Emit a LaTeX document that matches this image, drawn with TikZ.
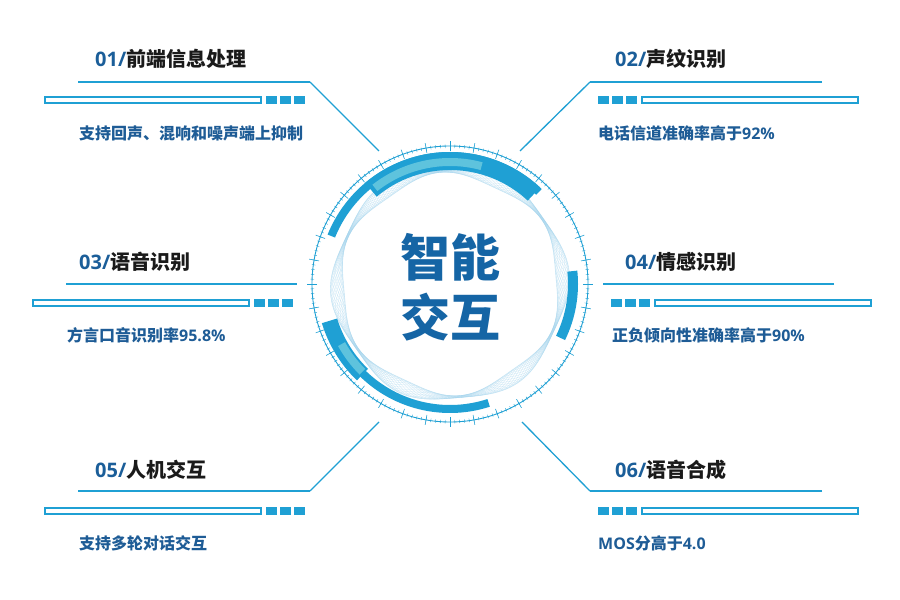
\documentclass[tikz,border=0pt]{standalone}
\usepackage{fontspec}
\setmainfont{Noto Sans CJK SC}
\newfontfamily\latn{Open Sans}
\usetikzlibrary{positioning}
\definecolor{lineblue}{HTML}{1FA0D4}
\definecolor{lightblue}{HTML}{5EC3DD}
\definecolor{wavec}{HTML}{9FD3EE}
\definecolor{numc}{HTML}{1B5E99}
\definecolor{titc}{HTML}{1A1A1A}
\definecolor{descc}{HTML}{1E5C96}
\definecolor{centc}{HTML}{1565A5}
\begin{document}
\begin{tikzpicture}[x=1pt, y=1pt]
		% 定义样式
			\tikzstyle{tit} = [anchor=west, inner sep=0pt, font=\fontsize{20}{24}\selectfont\bfseries, text=titc]
			\tikzstyle{desc} = [anchor=west, inner sep=0pt, font=\fontsize{16}{19}\selectfont\bfseries, text=descc]
			\tikzstyle{bar} = [draw=lineblue, line width=1.8pt, minimum width=216pt, minimum height=6pt, inner sep=0pt]
			\tikzstyle{sq} = [fill=lineblue, minimum width=11pt, minimum height=8.5pt, inner sep=0pt]
			\tikzstyle{guide} = [draw=lineblue, line width=1.8pt]
			\tikzstyle{slant} = [draw=lineblue, line width=1.3pt]
			\tikzstyle{wave} = [draw=wavec, line width=0.35pt, opacity=0.45]
			
			\useasboundingbox[fill=white] (0,0) rectangle (900,600);
			
			%绘制中心圆环
			\coordinate (c) at (450,316);
			\begin{scope}[shift={(c)}]
				\foreach \ph in {0,20,...,340}
				\draw[wave] plot[smooth cycle, samples=180, domain=0:358, variable=\t] (\t:{113+(1+6*(sin(3*\t+75))^2)*sin(7*\t+\ph)});
				\draw[lineblue, line width=0.9pt] (0,0) circle (138);
				\foreach \a in {0,2,...,358}
				\draw[lineblue, line width=0.4pt] (\a:136) -- (\a:139.5);
				\foreach \a in {0,10,...,350}
				\draw[lineblue, line width=0.6pt] (\a:133) -- (\a:143);
				% 粗弧段
				\fill[lineblue] (46:124) arc (46:158:124) -- (158:132) arc (158:46:132) -- cycle;
				\fill[lineblue] (47:114) arc (47:130:114) -- (130:132) arc (130:47:132) -- cycle;
				\fill[lightblue] (75:118) arc (75:128:118) -- (128:126) arc (128:75:126) -- cycle;
				\fill[lineblue] (-26:118) arc (-26:6:118) -- (6:128) arc (6:-26:128) -- cycle;
				\fill[lineblue] (220:121) arc (220:288:121) -- (288:129) arc (288:220:129) -- cycle;
				\fill[lineblue] (197:118) arc (197:226:118) -- (226:134) arc (226:197:134) -- cycle;
				\fill[lightblue] (209:120) arc (209:225:120) -- (225:128) arc (225:209:128) -- cycle;
			\end{scope}
			\node[font=\fontsize{50}{60}\selectfont\bfseries, text=centc, align=center, inner sep=0pt] (core) at (450,313) {智能\\交互};
			
			%绘制节点
			\node[tit] (fronttitle) at (95,541) {{\color{numc}\latn 01/}前端信息处理};
			\node[bar, anchor=west] (frontbar) at (44,500) {};
			\node[sq, right=4pt of frontbar] (frontsq1) {};
			\node[sq, right=2.5pt of frontsq1] (frontsq2) {};
			\node[sq, right=2.5pt of frontsq2] (frontsq3) {};
			\node[desc] (frontdesc) at (79,467) {支持回声、混响和噪声端上抑制};
			
			\node[tit] (vprtitle) at (615,541) {{\color{numc}\latn 02/}声纹识别};
			\node[sq, anchor=west] (vprsq1) at (598,500) {};
			\node[sq, right=2.5pt of vprsq1] (vprsq2) {};
			\node[sq, right=2.5pt of vprsq2] (vprsq3) {};
			\node[bar, right=4pt of vprsq3] (vprbar) {};
			\node[desc] (vprdesc) at (598,467) {电话信道准确率高于{\latn 92\%}};
			
			\node[tit] (asrtitle) at (79,338) {{\color{numc}\latn 03/}语音识别};
			\node[bar, anchor=west] (asrbar) at (32,297) {};
			\node[sq, right=4pt of asrbar] (asrsq1) {};
			\node[sq, right=2.5pt of asrsq1] (asrsq2) {};
			\node[sq, right=2.5pt of asrsq2] (asrsq3) {};
			\node[desc] (asrdesc) at (67,265) {方言口音识别率{\latn 95.8\%}};
			
			\node[tit] (emotitle) at (625,338) {{\color{numc}\latn 04/}情感识别};
			\node[sq, anchor=west] (emosq1) at (611,297) {};
			\node[sq, right=2.5pt of emosq1] (emosq2) {};
			\node[sq, right=2.5pt of emosq2] (emosq3) {};
			\node[bar, right=4pt of emosq3] (emobar) {};
			\node[desc] (emodesc) at (612,265) {正负倾向性准确率高于{\latn 90\%}};
			
			\node[tit] (hcititle) at (95,130) {{\color{numc}\latn 05/}人机交互};
			\node[bar, anchor=west] (hcibar) at (44,89) {};
			\node[sq, right=4pt of hcibar] (hcisq1) {};
			\node[sq, right=2.5pt of hcisq1] (hcisq2) {};
			\node[sq, right=2.5pt of hcisq2] (hcisq3) {};
			\node[desc] (hcidesc) at (79,57) {支持多轮对话交互};
			
			\node[tit] (ttstitle) at (615,130) {{\color{numc}\latn 06/}语音合成};
			\node[sq, anchor=west] (ttssq1) at (598,89) {};
			\node[sq, right=2.5pt of ttssq1] (ttssq2) {};
			\node[sq, right=2.5pt of ttssq2] (ttssq3) {};
			\node[bar, right=4pt of ttssq3] (ttsbar) {};
			\node[desc] (ttsdesc) at (598,57) {{\latn MOS}分高于{\latn 4.0}};
			
			%引线坐标
			\coordinate (frontl) at (78,518);
			\coordinate (frontk) at (310,518);
			\coordinate (frontend) at (379,449);
			\coordinate (vprl) at (822,518);
			\coordinate (vprk) at (590,518);
			\coordinate (vprend) at (520,449);
			\coordinate (asrl) at (66,316);
			\coordinate (asrk) at (297,316);
			\coordinate (emol) at (834,316);
			\coordinate (emok) at (603,316);
			\coordinate (hcil) at (78,109);
			\coordinate (hcik) at (310,109);
			\coordinate (hciend) at (379,178);
			\coordinate (ttsl) at (822,109);
			\coordinate (ttsk) at (590,109);
			\coordinate (ttsend) at (522,178);
			
			\draw[guide] (frontl) -- (frontk);
			\draw[slant] (frontk) -- (frontend);
			\draw[guide] (vprl) -- (vprk);
			\draw[slant] (vprk) -- (vprend);
			\draw[guide] (asrl) -- (asrk);
			\draw[guide] (emol) -- (emok);
			\draw[guide] (hcil) -- (hcik);
			\draw[slant] (hcik) -- (hciend);
			\draw[guide] (ttsl) -- (ttsk);
			\draw[slant] (ttsk) -- (ttsend);
		\end{tikzpicture}
\end{document}
